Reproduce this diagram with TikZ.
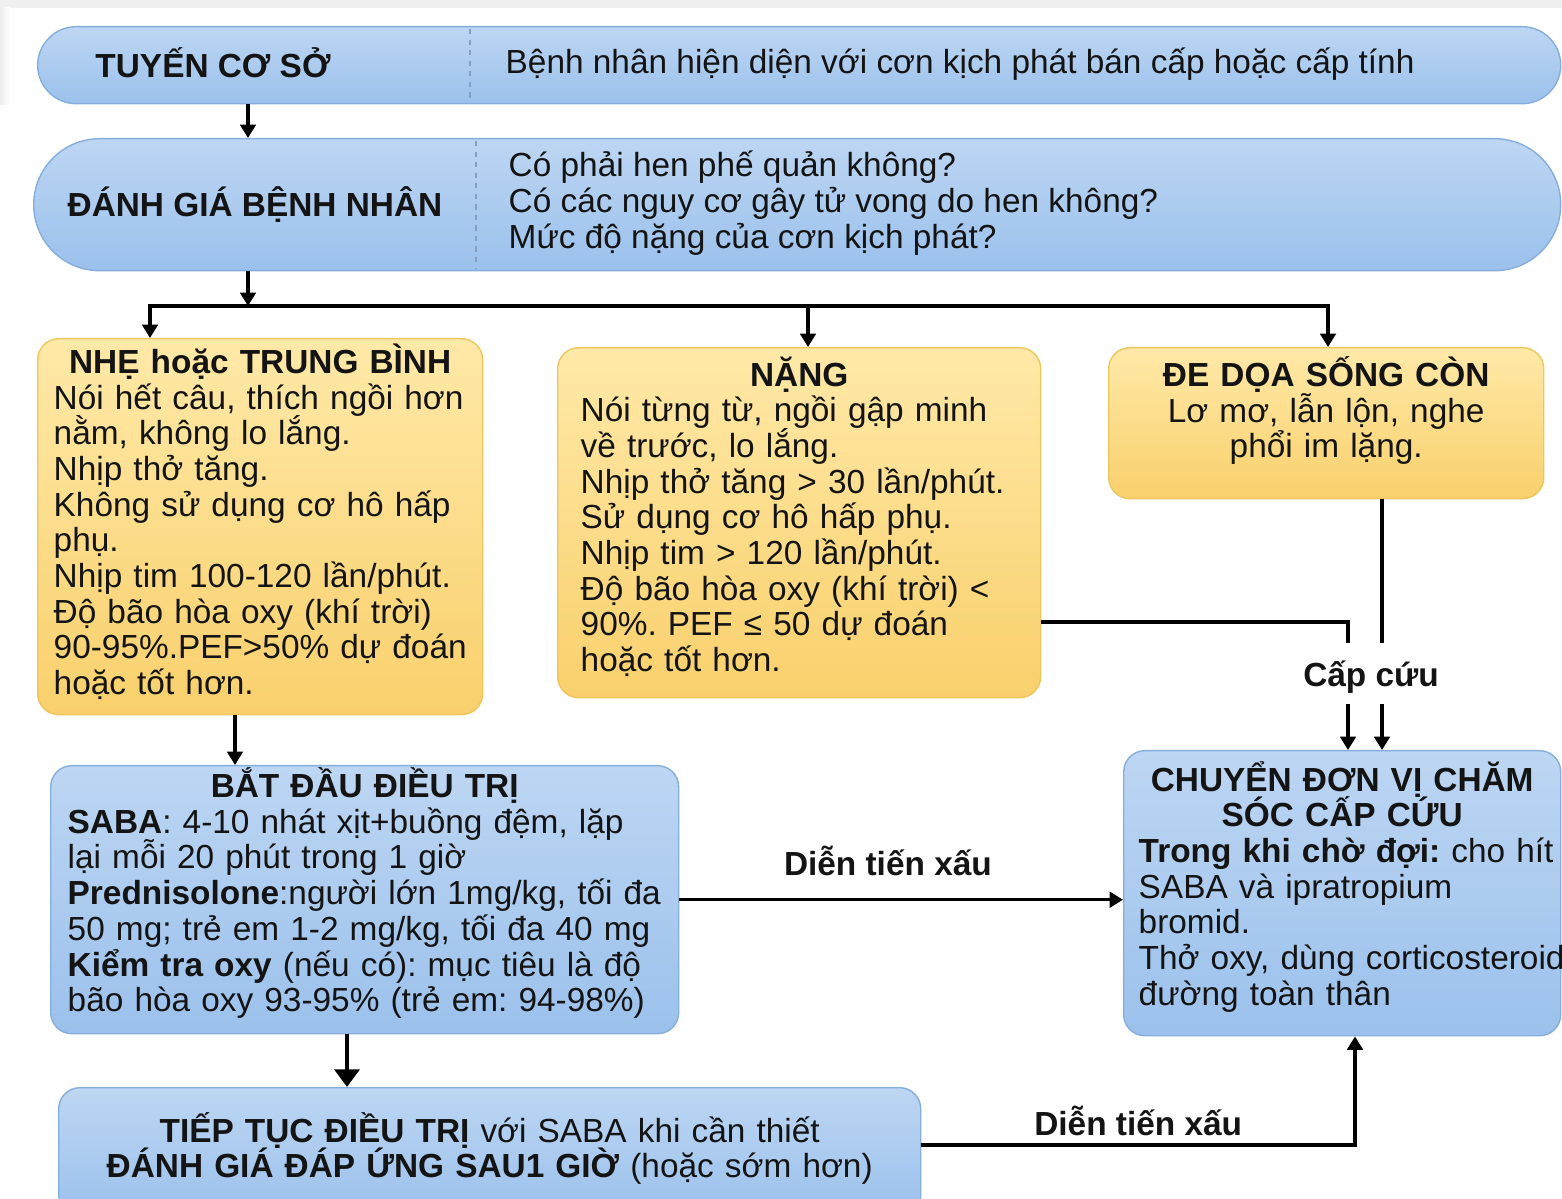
\documentclass[tikz,border=0pt]{standalone}
\usepackage{fontspec}
\setmainfont{Liberation Sans}
\usetikzlibrary{arrows.meta}
\definecolor{skyTop}{HTML}{BDD6F3}
\definecolor{skyBot}{HTML}{9BC1EC}
\definecolor{skyEdge}{HTML}{86AEDD}
\definecolor{sunTop}{HTML}{FFE9A8}
\definecolor{sunBot}{HTML}{F9D06C}
\definecolor{sunEdge}{HTML}{EDC65E}
\definecolor{ink}{HTML}{141414}
\newcommand\head[1]{\makebox[\linewidth][c]{\bfseries #1}}
\newcommand\spread[1]{\makebox[\linewidth][s]{#1}}
\newcommand\lift[1]{\rule[-#1]{0pt}{#1}}
\newcommand\flowfont{\fontsize{9.5}{10.15}\selectfont\setlength\lineskiplimit{-100pt}\setlength\lineskip{0pt}}
\frenchspacing
\hyphenpenalty=10000
\exhyphenpenalty=10000

\begin{document}
\begin{tikzpicture}[every node/.style={font=\flowfont,text=ink,inner sep=0pt},
  pill/.style={draw=skyEdge,line width=.4pt,top color=skyTop,bottom color=skyBot,anchor=north west},
  box/.style={pill,rounded corners=6pt,align=left,inner xsep=.16cm,inner ysep=0pt},
  sunbox/.style={box,draw=sunEdge,top color=sunTop,bottom color=sunBot},
  divider/.style={skyEdge!70!gray,line width=.4pt,dash pattern=on 1.5pt off 1.5pt},
  wire/.style={line width=1pt},
  link/.style={wire,-{Triangle[width=4.4pt,length=3.8pt]}},
  heavy/.style={line width=1.4pt,-{Triangle[width=7pt,length=5pt]}},
  note/.style={font=\flowfont\bfseries}]
  \useasboundingbox (0,0) rectangle (15.62,-11.99);
  \fill[white] (0,0) rectangle (15.62,-11.99);
  \fill[gray!12] (0,0) rectangle (15.62,-.08);
  \fill[left color=gray!14,right color=white] (0,-.08) rectangle (.1,-1.05);

  % top band
  \node[pill,minimum width=15.23cm,minimum height=.77cm,rounded corners=.385cm] (tuyen) at (.37,-.26) {};
  \node[pill,minimum width=15.27cm,minimum height=1.32cm,rounded corners=.66cm] (danhgia) at (.33,-1.38) {};
  \coordinate (cutA) at (4.70,0);
  \coordinate (cutB) at (4.76,0);
  \draw[divider] ([yshift=-.03cm]cutA |- tuyen.north) -- ([yshift=.03cm]cutA |- tuyen.south);
  \draw[divider] ([yshift=-.03cm]cutB |- danhgia.north) -- ([yshift=.03cm]cutB |- danhgia.south);
  \node[note] (tuyenL) at (2.13,-.63) {TUYẾN CƠ SỞ};
  \node[anchor=west] (tuyenR) at (5.05,-.645) {Bệnh nhân hiện diện với cơn kịch phát bán cấp hoặc cấp tính};
  \node[note] (danhgiaL) at (2.55,-2.05) {ĐÁNH GIÁ BỆNH NHÂN};
  \node[anchor=west,align=left] (danhgiaR) at (5.08,-2.03)
    {Có phải hen phế quản không?\\Có các nguy cơ gây tử vong do hen không?\\Mức độ nặng của cơn kịch phát?};

  % severity
  \node[sunbox,text width=4.13cm,minimum height=3.76cm] (nhe) at (.37,-3.38)
    {\head{NHẸ hoặc TRUNG BÌNH}\\
     \spread{Nói hết câu, thích ngồi hơn}\\nằm, không lo lắng.\\Nhịp thở tăng.\\
     \spread{Không sử dụng cơ hô hấp}\\phụ.\\Nhịp tim 100-120 lần/phút.\\
     Độ bão hòa oxy (khí trời)\\\spread{90-95\%.PEF>50\% dự đoán}\\hoặc tốt hơn.\lift{.15cm}};
  \node[sunbox,text width=4.37cm,inner xsep=.23cm,minimum height=3.5cm] (nang) at (5.57,-3.47)
    {\head{NẶNG}\\Nói từng từ, ngồi gập minh\\về trước, lo lắng.\\Nhịp thở tăng > 30 lần/phút.\\
     Sử dụng cơ hô hấp phụ.\\Nhịp tim > 120 lần/phút.\\Độ bão hòa oxy (khí trời) <\\
     90\%. PEF ≤ 50 dự đoán\\hoặc tốt hơn.\lift{.17cm}};
  \node[sunbox,align=center,text width=4.03cm,minimum height=1.51cm] (dedoa) at (11.08,-3.47)
    {\textbf{ĐE DỌA SỐNG CÒN}\\Lơ mơ, lẫn lộn, nghe\\phổi im lặng.\lift{.32cm}};

  % treatment
  \node[box,text width=5.94cm,inner xsep=.17cm,minimum height=2.68cm] (batdau) at (.50,-7.65)
    {\head{BẮT ĐẦU ĐIỀU TRỊ}\\
     \textbf{SABA}: 4-10 nhát xịt+buồng đệm, lặp\\lại mỗi 20 phút trong 1 giờ\\
     \textbf{Prednisolone}:người lớn 1mg/kg, tối đa\\50 mg; trẻ em 1-2 mg/kg, tối đa 40 mg\\
     \textbf{Kiểm tra oxy} (nếu có): mục tiêu là độ\\bão hòa oxy 93-95\% (trẻ em: 94-98\%)\lift{.20cm}};
  \node[box,text width=4.07cm,inner xsep=.15cm,minimum height=2.85cm] (chuyen) at (11.23,-7.50)
    {\head{CHUYỂN ĐƠN VỊ CHĂM}\\\head{SÓC CẤP CỨU}\\
     \mbox{\textbf{Trong khi chờ đợi:} cho hít}\\SABA và ipratropium\\bromid.\\
     \mbox{Thở oxy, dùng corticosteroid}\\đường toàn thân\lift{.20cm}};
  \node[box,align=center,text width=8.3cm,minimum height=1.28cm] (tieptuc) at (.58,-10.87)
    {\textbf{TIẾP TỤC ĐIỀU TRỊ} với SABA khi cần thiết\\
     \textbf{ĐÁNH GIÁ ĐÁP ỨNG SAU1 GIỜ} (hoặc sớm hơn)\lift{.13cm}};

  % connectors
  \coordinate (split) at (2.48,-3.06);
  \coordinate (splitL) at (1.50,-3.06);
  \coordinate (splitM) at (8.08,-3.06);
  \coordinate (splitR) at (13.28,-3.06);
  \draw[link] (split |- tuyen.south) -- (split |- danhgia.north);
  \draw[link] (split |- danhgia.south) -- (split);
  \draw[link] (split) -| (splitL |- nhe.north);
  \draw[link] (split) -| (splitR |- dedoa.north);
  \draw[link] (splitM) -- (splitM |- nang.north);

  \coordinate (colA) at (2.35,0);
  \coordinate (colB) at (3.47,0);
  \draw[link] (colA |- nhe.south) -- (colA |- batdau.north);
  \draw[heavy] (colB |- batdau.south) -- (colB |- tieptuc.north);
  \draw[link] (batdau.east) -- node[note,pos=.47,above=.22cm] (worseA) {Diễn tiến xấu} (batdau.east -| chuyen.west);

  \coordinate (turn) at (13.55,-11.45);
  \draw[link] (tieptuc.east |- turn) -- node[note,above=.07cm] (worseB) {Diễn tiến xấu} (turn) -- (turn |- chuyen.south);

  \coordinate (jointA) at (13.48,-6.22);
  \coordinate (dropA) at (13.48,-6.43);
  \coordinate (dropB) at (13.82,-6.43);
  \node[note,inner sep=.1cm] (capcuu) at (13.71,-6.77) {Cấp cứu};
  \draw[wire] (nang.east |- jointA) -- (jointA) -- (dropA);
  \draw[wire] (dropB |- dedoa.south) -- (dropB);
  \draw[link] (dropA |- capcuu.south) -- (dropA |- chuyen.north);
  \draw[link] (dropB |- capcuu.south) -- (dropB |- chuyen.north);
\end{tikzpicture}
\end{document}
